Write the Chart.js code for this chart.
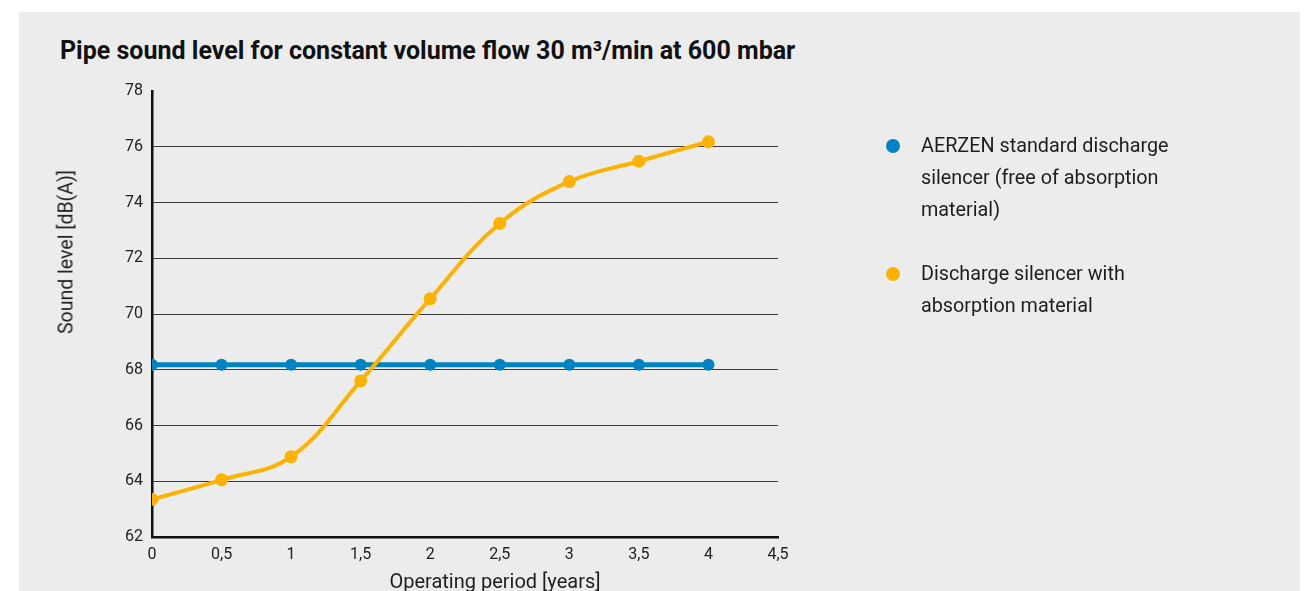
<!DOCTYPE html>
<html>
<head>
<meta charset="utf-8">
<script src="https://cdn.jsdelivr.net/npm/chart.js@4"></script>
<style>
  html, body { margin: 0; padding: 0; background: #ffffff; width: 1306px; height: 591px; overflow: hidden; font-family: Roboto, "Noto Sans", sans-serif; color: #1e1e1e; }
  #panel { position: absolute; left: 19px; top: 12px; width: 1281px; height: 579px; background: #ececec; }
  #chart { position: absolute; left: 0; top: 0; }
  #title { position: absolute; left: 60px; top: 36px; font-size: 25px; font-weight: bold; white-space: nowrap; line-height: 30px; color: #111; }
  .leg { position: absolute; left: 921px; font-size: 19.8px; line-height: 32px; color: #1e1e1e; }
  .dot { position: absolute; width: 14px; height: 14px; border-radius: 50%; }
  #ytitle { position: absolute; left: 66px; top: 252px; transform: translate(-50%, -50%) rotate(-90deg); font-size: 19.5px; white-space: nowrap; }
  #xtitle { position: absolute; left: 495px; top: 581px; transform: translate(-50%, -50%); font-size: 20px; white-space: nowrap; }
</style>
</head>
<body>
<div id="panel"></div>
<div id="title">Pipe sound level for constant volume flow 30 m³/min at 600 mbar</div>
<canvas id="chart" width="1306" height="591"></canvas>
<div id="ytitle">Sound level [dB(A)]</div>
<div id="xtitle">Operating period [years]</div>
<div class="dot" style="left:886px; top:139px; background:#0083c1;"></div>
<div class="leg" style="top:130px;">AERZEN standard discharge<br>silencer (free of absorption<br>material)</div>
<div class="dot" style="left:886px; top:267px; background:#fdb200;"></div>
<div class="leg" style="top:258px;">Discharge silencer with<br>absorption material</div>
<script>
const seriesNames = ["AERZEN standard discharge silencer (free of absorption material)", "Discharge silencer with absorption material"];
const years = [0, 0.5, 1, 1.5, 2, 2.5, 3, 3.5, 4];
const standardValues = [68.18, 68.18, 68.18, 68.18, 68.18, 68.18, 68.18, 68.18, 68.18];
const absorptionValues = [63.35, 64.05, 64.88, 67.6, 70.55, 73.25, 74.75, 75.48, 76.18];
const xTickLabels = ["0", "0,5", "1", "1,5", "2", "2,5", "3", "3,5", "4", "4,5"];
const yTickLabels = ["62", "64", "66", "68", "70", "72", "74", "76", "78"];

const toPoints = (vals) => years.map((x, i) => ({ x: x, y: vals[i] }));

new Chart(document.getElementById('chart'), {
  type: 'line',
  data: {
    datasets: [
      {
        label: seriesNames[1],
        data: toPoints(absorptionValues),
        borderColor: '#fdb200',
        backgroundColor: '#fdb200',
        borderWidth: 4,
        pointRadius: 6.5,
        pointBorderWidth: 0,
        tension: 0.4,
        order: 1
      },
      {
        label: seriesNames[0],
        data: toPoints(standardValues),
        borderColor: '#0083c1',
        backgroundColor: '#0083c1',
        borderWidth: 5,
        pointRadius: 6,
        pointBorderWidth: 0,
        tension: 0,
        order: 2
      }
    ]
  },
  options: {
    responsive: false,
    animation: false,
    layout: { padding: { left: 0, top: 91, right: 528, bottom: 0 } },
    plugins: { legend: { display: false }, tooltip: { enabled: false }, title: { display: false } },
    scales: {
      x: {
        type: 'linear',
        min: 0, max: 4.5,
        afterFit: (s) => { s.height = 54; },
        grid: { display: false, drawTicks: false },
        border: { display: true, color: '#111', width: 2.5 },
        ticks: {
          stepSize: 0.5,
          padding: 8,
          color: '#222',
          font: { family: 'Roboto', size: 16 },
          callback: (v, i) => xTickLabels[i]
        }
      },
      y: {
        min: 62, max: 78,
        afterFit: (s) => { s.width = 152; },
        grid: {
          drawTicks: false,
          color: (ctx) => (ctx.tick && ctx.tick.value === 78) ? 'rgba(0,0,0,0)' : '#3a3a3a',
          lineWidth: 1
        },
        border: { display: true, color: '#111', width: 2.5 },
        ticks: {
          stepSize: 2,
          padding: 9,
          color: '#222',
          font: { family: 'Roboto', size: 16 },
          callback: (v, i) => yTickLabels[i]
        }
      }
    }
  }
});
</script>
</body>
</html>
